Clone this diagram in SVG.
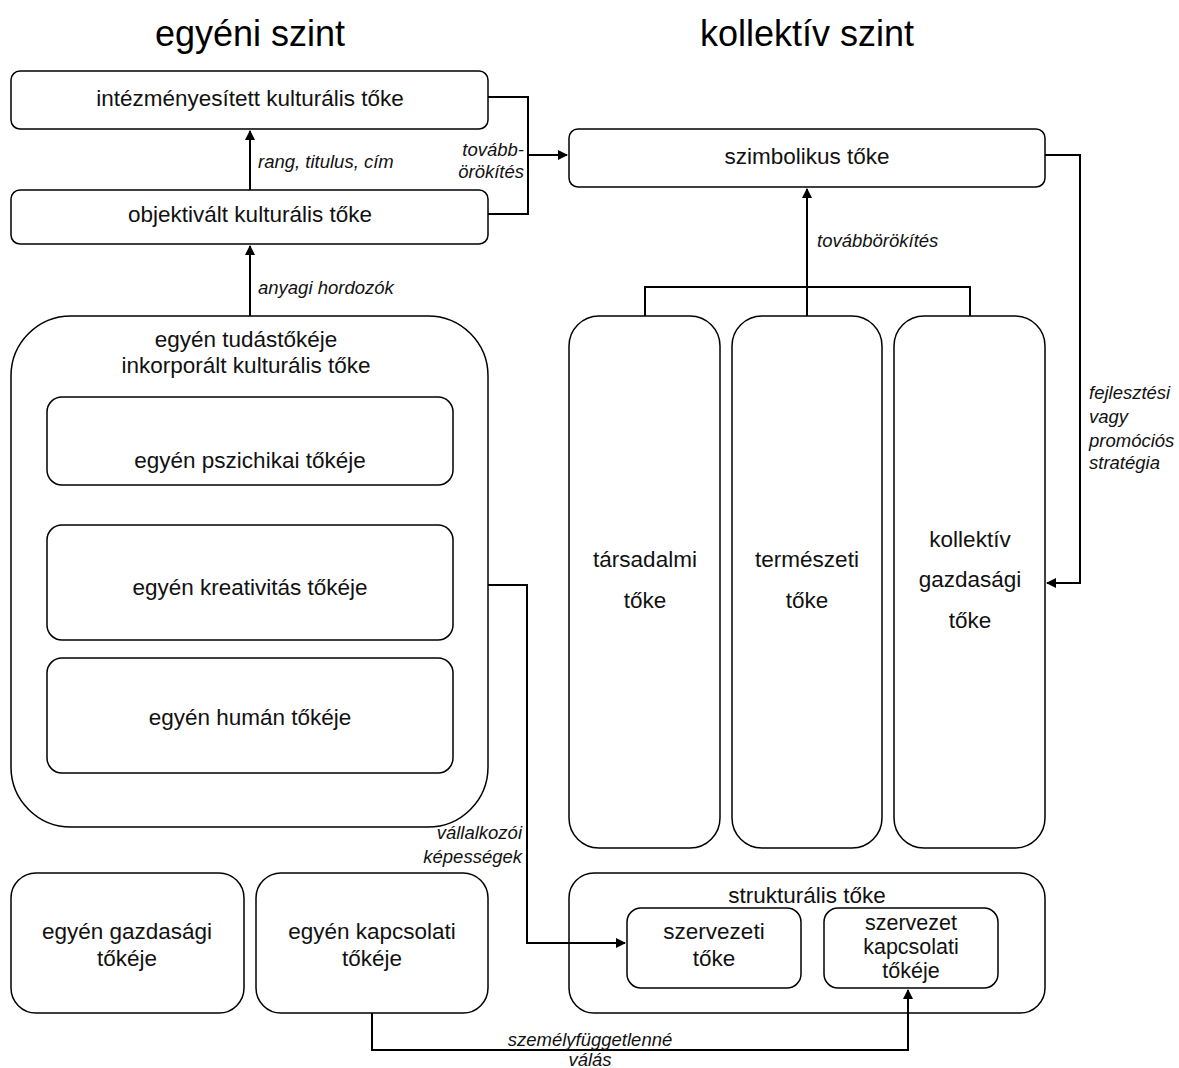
<svg xmlns="http://www.w3.org/2000/svg" width="1179" height="1068" viewBox="0 0 1179 1068">
<defs>
<marker id="ah" viewBox="0 0 10 10" refX="9" refY="5" markerWidth="10" markerHeight="10" markerUnits="userSpaceOnUse" orient="auto"><path d="M0,0 L10,5 L0,10 z" fill="#000"/></marker>
<style>
.b{fill:#fff;stroke:#000;stroke-width:1.5}
.t{font-family:"Liberation Sans",Arial,sans-serif;font-size:22.5px;fill:#111;text-anchor:middle}
.h{font-family:"Liberation Sans",Arial,sans-serif;font-size:36px;fill:#000;text-anchor:middle}
.l{font-family:"Liberation Sans",Arial,sans-serif;font-size:18.5px;font-style:italic;fill:#111}
.c{fill:none;stroke:#000;stroke-width:2}
</style>
</defs>
<rect width="1179" height="1068" fill="#fff"/>
<text class="h" x="250" y="46">egyéni szint</text>
<text class="h" x="807" y="46">kollektív szint</text>
<g id="intezmenyesitett"><rect class="b" x="11" y="71" width="477" height="58" rx="9"/><text class="t" x="250" y="106">intézményesített kulturális tőke</text></g>
<g id="objektivalt"><rect class="b" x="11" y="190" width="477" height="54" rx="9"/><text class="t" x="250" y="222">objektivált kulturális tőke</text></g>
<g id="szimbolikus"><rect class="b" x="569" y="129" width="476" height="58" rx="9"/><text class="t" x="807" y="164">szimbolikus tőke</text></g>
<g id="tudastoke"><rect class="b" x="11" y="316" width="477" height="511" rx="60"/><text class="t" x="246" y="347">egyén tudástőkéje</text><text class="t" x="246" y="373">inkorporált kulturális tőke</text></g>
<g id="pszichikai"><rect class="b" x="47" y="397" width="406" height="88" rx="15"/><text class="t" x="250" y="468">egyén pszichikai tőkéje</text></g>
<g id="kreativitas"><rect class="b" x="47" y="525" width="406" height="115" rx="15"/><text class="t" x="250" y="595">egyén kreativitás tőkéje</text></g>
<g id="human"><rect class="b" x="47" y="658" width="406" height="115" rx="15"/><text class="t" x="250" y="725">egyén humán tőkéje</text></g>
<g id="tarsadalmi"><rect class="b" x="569" y="316" width="151" height="532" rx="30"/><text class="t" x="645" y="567">társadalmi</text><text class="t" x="645" y="608">tőke</text></g>
<g id="termeszeti"><rect class="b" x="732" y="316" width="150" height="532" rx="30"/><text class="t" x="807" y="567">természeti</text><text class="t" x="807" y="608">tőke</text></g>
<g id="kollektiv-gazdasagi"><rect class="b" x="894" y="316" width="151" height="532" rx="30"/><text class="t" x="970" y="547">kollektív</text><text class="t" x="970" y="587">gazdasági</text><text class="t" x="970" y="628">tőke</text></g>
<g id="gazdasagi"><rect class="b" x="11" y="873" width="233" height="140" rx="25"/><text class="t" x="127" y="939">egyén gazdasági</text><text class="t" x="127" y="966">tőkéje</text></g>
<g id="kapcsolati"><rect class="b" x="256" y="873" width="232" height="140" rx="25"/><text class="t" x="372" y="939">egyén kapcsolati</text><text class="t" x="372" y="966">tőkéje</text></g>
<g id="strukturalis"><rect class="b" x="569" y="873" width="476" height="140" rx="25"/><text class="t" x="807" y="903">strukturális tőke</text></g>
<g id="szervezeti"><rect class="b" x="627" y="908" width="174" height="80" rx="14"/><text class="t" x="714" y="939">szervezeti</text><text class="t" x="714" y="966">tőke</text></g>
<g id="szervezet-kapcsolati"><rect class="b" x="824" y="908" width="174" height="80" rx="14"/><text class="t" x="911" y="930" style="font-size:21.5px">szervezet</text><text class="t" x="911" y="954" style="font-size:21.5px">kapcsolati</text><text class="t" x="911" y="978" style="font-size:21.5px">tőkéje</text></g>
<g id="connectors">
<line class="c" x1="250" y1="190" x2="250" y2="131" marker-end="url(#ah)"/>
<line class="c" x1="250" y1="316" x2="250" y2="246" marker-end="url(#ah)"/>
<polyline class="c" points="488,97 528,97 528,214 488,214"/>
<line class="c" x1="528" y1="155" x2="567" y2="155" marker-end="url(#ah)"/>
<line class="c" x1="807" y1="287" x2="807" y2="189" marker-end="url(#ah)"/>
<polyline class="c" points="645,316 645,287 970,287 970,316"/>
<line class="c" x1="807" y1="287" x2="807" y2="316"/>
<polyline class="c" points="1045,155 1080,155 1080,583 1047,583" marker-end="url(#ah)"/>
<polyline class="c" points="488,585 527,585 527,943 625,943" marker-end="url(#ah)"/>
<polyline class="c" points="372,1013 372,1050 908,1050 908,990" marker-end="url(#ah)"/>
<text class="l" x="258" y="168">rang, titulus, cím</text>
<text class="l" x="258" y="294">anyagi hordozók</text>
<text class="l" x="524" y="156" text-anchor="end">tovább-</text>
<text class="l" x="524" y="178" text-anchor="end">örökítés</text>
<text class="l" x="817" y="247">továbbörökítés</text>
<text class="l" x="1089" y="399">fejlesztési</text>
<text class="l" x="1089" y="423">vagy</text>
<text class="l" x="1089" y="447">promóciós</text>
<text class="l" x="1089" y="469">stratégia</text>
<text class="l" x="522" y="839" text-anchor="end">vállalkozói</text>
<text class="l" x="522" y="863" text-anchor="end">képességek</text>
<text class="l" x="590" y="1046" text-anchor="middle">személyfüggetlenné</text>
<text class="l" x="590" y="1066" text-anchor="middle">válás</text>
</g>
</svg>
